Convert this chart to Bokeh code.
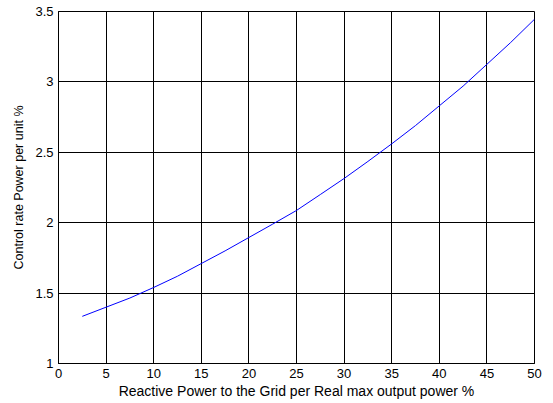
from bokeh.plotting import figure
from bokeh.models import Range1d, FixedTicker
from bokeh.embed import file_html
from bokeh.resources import INLINE

x_vals = [2.5, 5, 7.5, 10, 12.5, 15, 17.5, 20, 22.5, 25, 27.5, 30, 32.5, 35, 37.5, 40, 42.5, 45, 47.5, 50]
y_vals = [1.335, 1.40, 1.465, 1.54, 1.62, 1.71, 1.80, 1.895, 1.99, 2.087, 2.20, 2.314, 2.435, 2.56, 2.69, 2.83, 2.97, 3.125, 3.28, 3.445]
x_ticks = [0, 5, 10, 15, 20, 25, 30, 35, 40, 45, 50]
y_ticks = [1, 1.5, 2, 2.5, 3, 3.5]

p = figure(width=553, height=403, output_backend="svg", toolbar_location=None,
           x_range=Range1d(0, 50), y_range=Range1d(1, 3.5),
           min_border_left=58, min_border_right=19, min_border_top=11, min_border_bottom=40)
p.line(x_vals, y_vals, line_color="#0000ff", line_width=1)

p.xaxis.ticker = FixedTicker(ticks=x_ticks)
p.yaxis.ticker = FixedTicker(ticks=y_ticks)
p.xaxis.axis_label = "Reactive Power to the Grid per Real max output power %"
p.yaxis.axis_label = "Control rate Power per unit %"
for ax in (p.xaxis[0], p.yaxis[0]):
    ax.major_label_text_font = "Liberation Sans"
    ax.major_label_text_font_size = "13px"
    ax.major_label_text_color = "black"
    ax.axis_label_text_font = "Liberation Sans"
    ax.axis_label_text_font_style = "normal"
    ax.axis_label_text_color = "black"
    ax.major_label_standoff = 5
    ax.major_tick_in = 4
    ax.major_tick_out = 0
    ax.minor_tick_in = 0
    ax.minor_tick_out = 0
    ax.axis_line_color = "black"
    ax.major_tick_line_color = "black"
p.xaxis.axis_label_text_font_size = "14px"
p.yaxis.axis_label_text_font_size = "12.5px"
p.xaxis.axis_label_standoff = 2
p.yaxis.axis_label_standoff = 6
p.yaxis.major_label_orientation = "horizontal"
for g in (p.xgrid[0], p.ygrid[0]):
    g.grid_line_color = "black"
    g.grid_line_alpha = 1.0
    g.grid_line_width = 1
p.outline_line_color = "black"
p.outline_line_width = 1
p.background_fill_color = "white"
p.border_fill_color = "white"

open("out.html", "w").write(file_html(p, INLINE))
